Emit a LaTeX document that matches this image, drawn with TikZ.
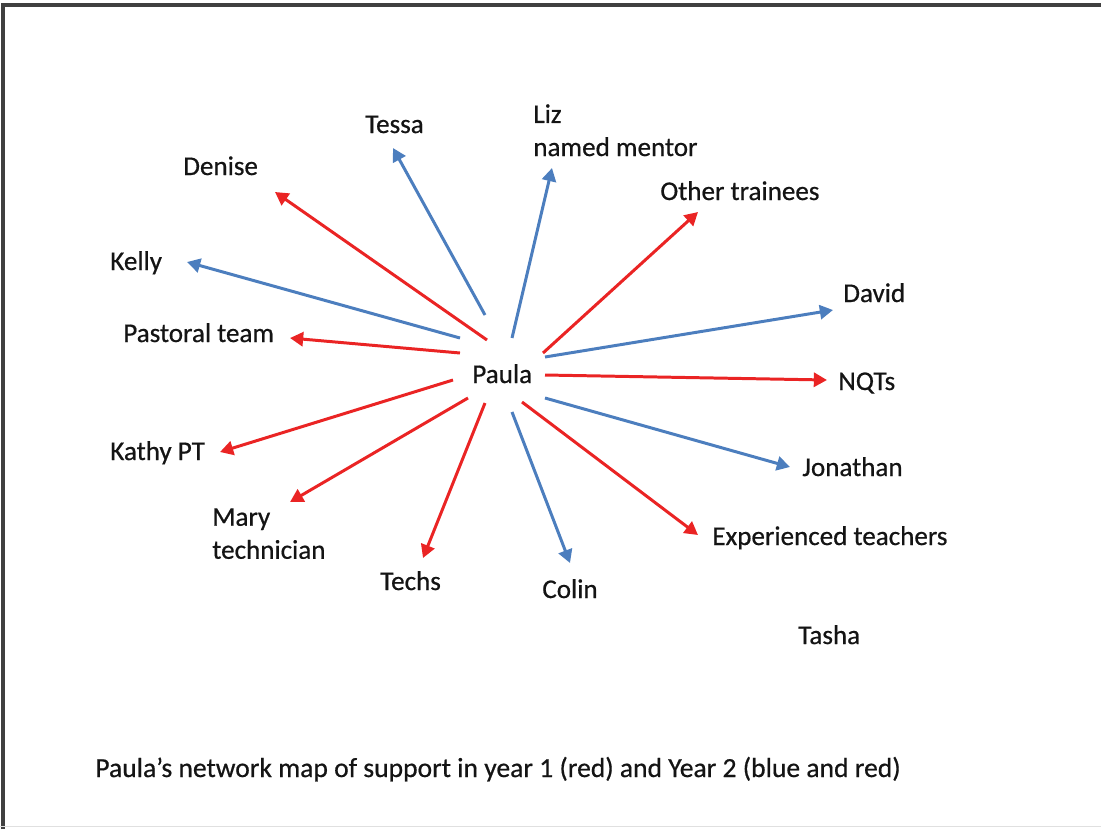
\documentclass[tikz,border=0pt]{standalone}
\usepackage{fontspec}
\setmainfont{Carlito}
\newfontfamily\lblfont[FakeBold=0.6]{Carlito}
\usepackage{tikz}
\usetikzlibrary{arrows.meta,positioning}
\definecolor{supred}{RGB}{234,36,36}
\definecolor{supblue}{RGB}{76,126,190}
\tikzset{lbl/.style={anchor=base west, inner sep=0pt, text=black!92, font=\lblfont\fontsize{15.4}{18.8}\selectfont, align=left}}
\tikzset{arr/.style={draw, -{Triangle[length=7.5pt,width=8pt]}, line width=1.7pt}}

\begin{document}
\begin{tikzpicture}[x=0.02cm,y=-0.02cm]
  \useasboundingbox (0,0) rectangle (1101,829);
  % frame
  \draw[line width=2pt, black!75] (3,829) -- (3,5) -- (1101,5);
  \draw[black!12] (0,826) -- (1101,826);

  % labels
  \node[lbl] (paula) at (472,383) {Paula};
  \node[lbl] (tessa) at (365,133) {Tessa};
  \node[lbl, anchor=north west] (liz) at (533,104) {Liz\\named mentor};
  \node[lbl] (denise) at (183,175) {Denise};
  \node[lbl] (others) at (660,200) {Other trainees};
  \node[lbl] (kelly) at (110,270) {Kelly};
  \node[lbl] (david) at (843,302) {David};
  \node[lbl] (pastoral) at (123,342) {Pastoral team};
  \node[lbl] (nqts) at (838,390) {NQTs};
  \node[lbl] (kathy) at (110,460) {Kathy PT};
  \node[lbl] (jonathan) at (802,476) {Jonathan};
  \node[lbl, anchor=north west] (mary) at (212,508) {Mary\\technician};
  \node[lbl] (exp) at (712,545) {Experienced teachers};
  \node[lbl] (techs) at (380,590) {Techs};
  \node[lbl] (colin) at (542,598) {Colin};
  \node[lbl] (tasha) at (798,644) {Tasha};
  \node[lbl, font=\lblfont\fontsize{15.7}{18.8}\selectfont] (caption) at (95,777)
    {Paula’s network map of support in year 1 (red) and Year 2 (blue and red)};

  % arrows: name / start / tip / colour
  \foreach \nm/\sx/\sy/\tx/\ty/\col in {
      tessa/485/315/393/148/supblue, liz/512/338/552/168/supblue,
      denise/487/340/275/192/supred, others/543/353/698/212/supred,
      kelly/460/338/187/262/supblue, david/545/357/833/310/supblue,
      pastoral/460/353/290/338/supred, nqts/545/375/827/380/supred,
      kathy/453/380/220/452/supred, jonathan/545/398/790/467/supblue,
      mary/468/398/290/502/supred, exp/522/402/698/535/supred,
      techs/485/403/423/558/supred, colin/512/412/570/563/supblue}{
    \coordinate (s-\nm) at (\sx,\sy);
    \coordinate (t-\nm) at (\tx,\ty);
    \draw[arr, draw=\col] (s-\nm) -- (t-\nm);
  }
\end{tikzpicture}
\end{document}
